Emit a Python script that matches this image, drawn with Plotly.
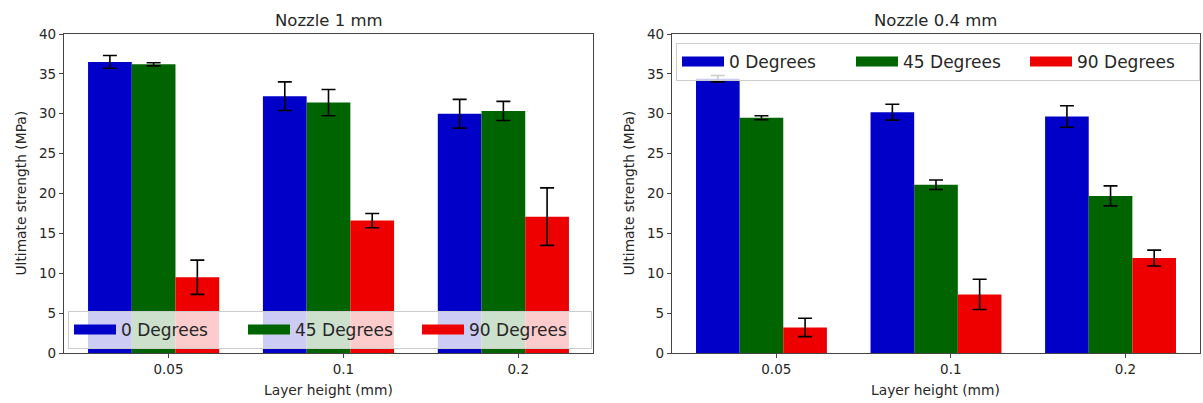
import plotly.graph_objects as go

# ---- data ----
layer_heights = ["0.05", "0.1", "0.2"]
series_names = ["0 Degrees", "45 Degrees", "90 Degrees"]

nozzle1_mean = {
    "0 Degrees": [36.5, 32.2, 30.0],
    "45 Degrees": [36.2, 31.4, 30.35],
    "90 Degrees": [9.5, 16.6, 17.1],
}
nozzle1_err = {
    "0 Degrees": [0.8, 1.8, 1.8],
    "45 Degrees": [0.2, 1.65, 1.2],
    "90 Degrees": [2.15, 0.9, 3.6],
}
nozzle04_mean = {
    "0 Degrees": [34.4, 30.2, 29.65],
    "45 Degrees": [29.5, 21.1, 19.7],
    "90 Degrees": [3.2, 7.35, 11.9],
}
nozzle04_err = {
    "0 Degrees": [0.4, 1.0, 1.35],
    "45 Degrees": [0.25, 0.6, 1.25],
    "90 Degrees": [1.15, 1.9, 1.0],
}
y_ticks = [0, 5, 10, 15, 20, 25, 30, 35, 40]

# ---- styles ----
colors = {"0 Degrees": "#0000c8", "45 Degrees": "#006400", "90 Degrees": "#ee0000"}
bar_w = 0.25
offsets = {"0 Degrees": -0.375, "45 Degrees": -0.125, "90 Degrees": 0.125}
FONT = "DejaVu Sans"
TXT = "#262626"
W, H = 1203, 403

pos = list(range(len(layer_heights)))
tick_pos = [p + 0.085 for p in pos]

fig = go.Figure()

panels = [
    (nozzle1_mean, nozzle1_err, "x", "y", "legend"),
    (nozzle04_mean, nozzle04_err, "x2", "y2", "legend2"),
]
for means, errs, xa, ya, lg in panels:
    for s in series_names:
        fig.add_trace(go.Bar(
            x=pos, y=means[s], width=bar_w, offset=offsets[s],
            marker=dict(color=colors[s], line=dict(width=0)),
            error_y=dict(type="data", array=errs[s], color="black",
                         thickness=1.6, width=7),
            xaxis=xa, yaxis=ya, showlegend=False, name=s,
        ))
    for s in series_names:
        fig.add_trace(go.Scatter(
            x=[None], y=[None], mode="lines",
            line=dict(color=colors[s], width=11),
            name=s, xaxis=xa, yaxis=ya, legend=lg, showlegend=True,
        ))

x1 = [64 / W, 593 / W]
x2 = [672 / W, 1200 / W]
ydom = [(H - 353) / H, (H - 34) / H]

axis_common = dict(
    showline=True, linecolor="#444444", linewidth=1.2, mirror=True,
    ticks="outside", ticklen=4, tickwidth=1, tickcolor="#444444",
    showgrid=False, zeroline=False, automargin=False,
    tickfont=dict(family=FONT, size=13.5, color=TXT),
)
xcommon = dict(axis_common, range=[-0.5125, 2.5125], tickvals=tick_pos,
               ticktext=layer_heights)
ycommon = dict(axis_common, range=[0, 40], tickvals=y_ticks,
               ticktext=[str(v) for v in y_ticks])

legend_common = dict(
    orientation="h", xanchor="left", yanchor="top",
    bgcolor="rgba(255,255,255,0.8)", bordercolor="#cccccc", borderwidth=1,
    font=dict(family=FONT, size=17, color=TXT),
    itemwidth=42,
    entrywidth=117, entrywidthmode="pixels",
)

fig.update_layout(
    width=W, height=H, autosize=False,
    margin=dict(l=0, r=0, t=0, b=0, pad=0, autoexpand=False),
    paper_bgcolor="white", plot_bgcolor="white",
    barmode="overlay",
    xaxis=dict(xcommon, domain=x1, anchor="y"),
    yaxis=dict(ycommon, domain=ydom, anchor="x"),
    xaxis2=dict(xcommon, domain=x2, anchor="y2"),
    yaxis2=dict(ycommon, domain=ydom, anchor="x2"),
    legend=dict(legend_common, x=68 / W, y=(H - 311) / H),
    legend2=dict(legend_common, x=676 / W, y=(H - 43) / H),
    font=dict(family=FONT, color=TXT),
)

ann = []
for dom, title in [(x1, "Nozzle 1 mm"), (x2, "Nozzle 0.4 mm")]:
    cx = (dom[0] + dom[1]) / 2
    ann.append(dict(text=title, x=cx, y=(H - 20) / H, xref="paper", yref="paper",
                    showarrow=False, font=dict(family=FONT, size=16.5, color=TXT),
                    xanchor="center", yanchor="middle"))
    ann.append(dict(text="Layer height (mm)", x=cx, y=(H - 390) / H, xref="paper",
                    yref="paper", showarrow=False,
                    font=dict(family=FONT, size=13.8, color=TXT),
                    xanchor="center", yanchor="middle"))
for xp in [20, 628]:
    ann.append(dict(text="Ultimate strength (MPa)", x=xp / W, y=(ydom[0] + ydom[1]) / 2,
                    xref="paper", yref="paper", showarrow=False, textangle=-90,
                    font=dict(family=FONT, size=13.8, color=TXT),
                    xanchor="center", yanchor="middle"))
fig.update_layout(annotations=ann)

fig.write_html("out.html")
